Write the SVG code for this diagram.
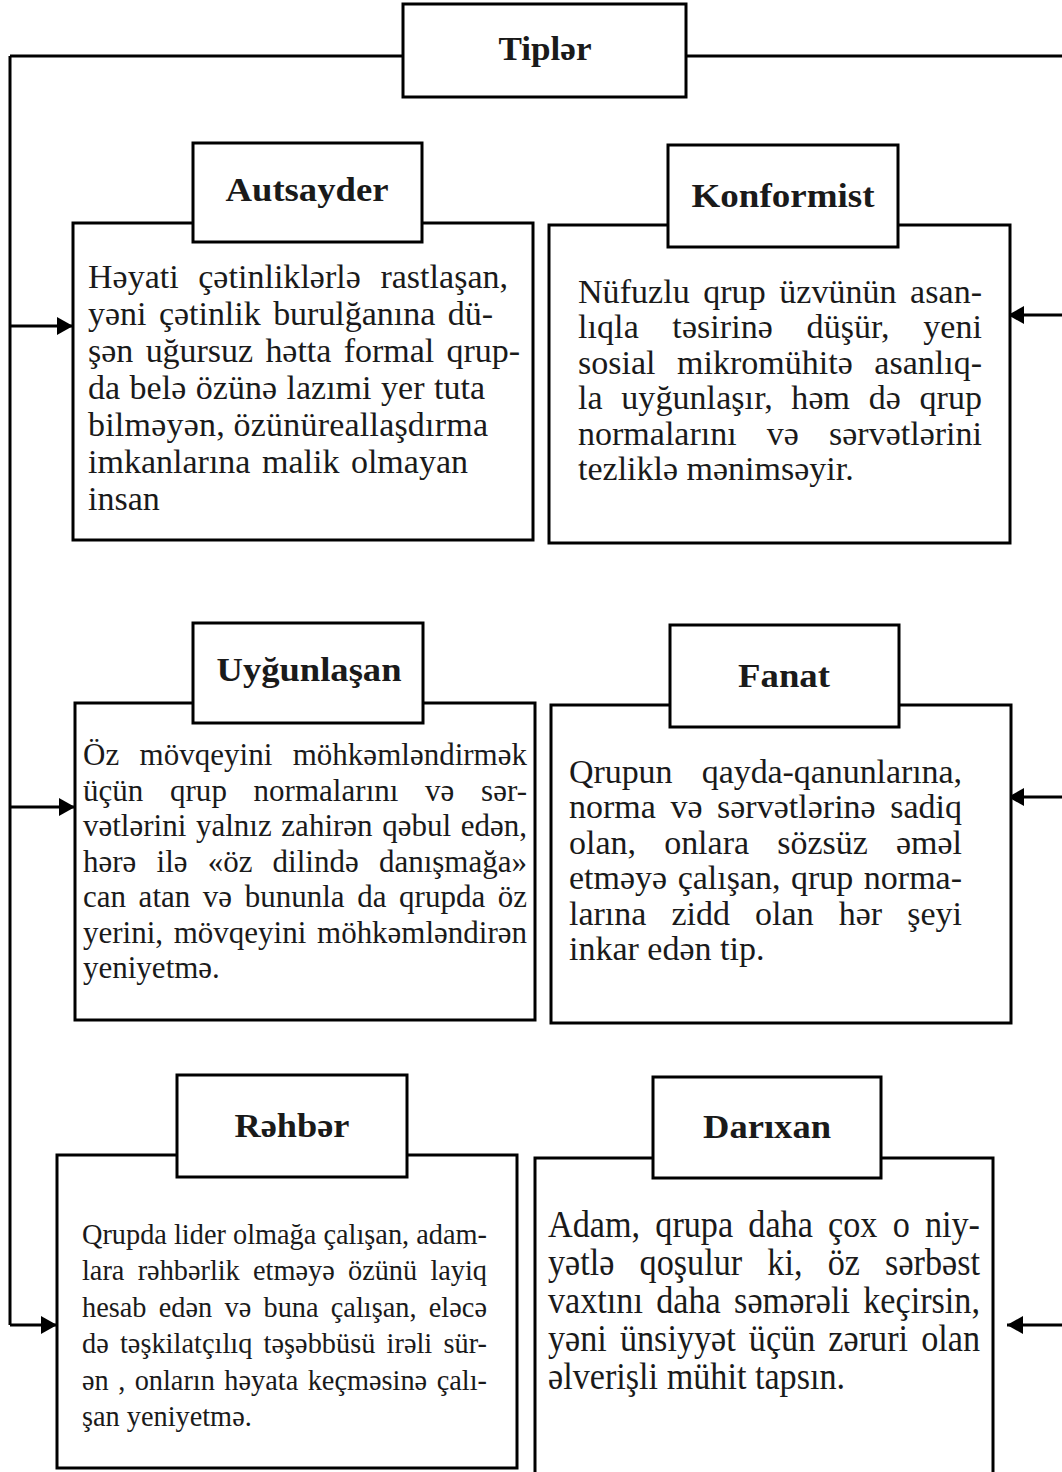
<svg xmlns="http://www.w3.org/2000/svg" width="1062" height="1472" viewBox="0 0 1062 1472">
<style>
.box{fill:#fff;stroke:#000;stroke-width:3}
.ln{fill:none;stroke:#000;stroke-width:3}
.hd{font-family:"Liberation Serif","Times New Roman",serif;font-weight:bold;font-size:34px;fill:#1a1a1a;text-anchor:middle}
.bd{font-family:"Liberation Serif","Times New Roman",serif;font-size:34px;fill:#1a1a1a}
.bd31{font-family:"Liberation Serif","Times New Roman",serif;font-size:31px;fill:#1a1a1a}
.bd30{font-family:"Liberation Serif","Times New Roman",serif;font-size:30px;fill:#1a1a1a}
.bd38{font-family:"Liberation Serif","Times New Roman",serif;font-size:38px;fill:#1a1a1a}
</style>
<defs>
<marker id="ah" markerUnits="userSpaceOnUse" markerWidth="18" markerHeight="20" refX="16" refY="9" orient="auto">
<path d="M0,0 L16,9 L0,18 Z" fill="#000"/>
</marker>
</defs>
<g id="connectors">
<path class="ln" d="M10,56 H403"/>
<path class="ln" d="M686,56 H1062"/>
<path class="ln" d="M10,56 V1325"/>
<path class="ln" d="M10,326 H73" marker-end="url(#ah)"/>
<path class="ln" d="M10,807 H75" marker-end="url(#ah)"/>
<path class="ln" d="M10,1325 H57" marker-end="url(#ah)"/>
<path class="ln" d="M1062,315 H1008" marker-end="url(#ah)"/>
<path class="ln" d="M1062,797 H1008" marker-end="url(#ah)"/>
<path class="ln" d="M1062,1325 H1007" marker-end="url(#ah)"/>
</g>
<g id="tipler">
<rect class="box" x="403" y="4" width="283" height="93"/>
<text class="hd" x="545" y="60" textLength="93" lengthAdjust="spacingAndGlyphs">Tiplər</text>
</g>
<g id="autsayder">
<rect class="box" x="73" y="223" width="460" height="317"/>
<rect class="box" x="193" y="143" width="229" height="99"/>
<text class="hd" x="307" y="201" textLength="163" lengthAdjust="spacingAndGlyphs">Autsayder</text>
<text class="bd" x="88" y="288" word-spacing="11" textLength="420" lengthAdjust="spacing">Həyati çətinliklərlə rastlaşan,</text>
<text class="bd" x="88" y="325" word-spacing="4" textLength="405" lengthAdjust="spacing">yəni çətinlik burulğanına dü-</text>
<text class="bd" x="88" y="362" word-spacing="4" textLength="432" lengthAdjust="spacing">şən uğursuz hətta formal qrup-</text>
<text class="bd" x="88" y="399" word-spacing="1" textLength="397" lengthAdjust="spacing">da belə özünə lazımi yer tuta</text>
<text class="bd" x="88" y="436" textLength="400" lengthAdjust="spacing">bilməyən, özünüreallaşdırma</text>
<text class="bd" x="88" y="473" word-spacing="3" textLength="380" lengthAdjust="spacing">imkanlarına malik olmayan</text>
<text class="bd" x="88" y="510">insan</text>
</g>
<g id="konformist">
<rect class="box" x="549" y="225" width="461" height="318"/>
<rect class="box" x="668" y="145" width="230" height="102"/>
<text class="hd" x="783" y="207" textLength="183" lengthAdjust="spacingAndGlyphs">Konformist</text>
<text class="bd" x="578" y="303" word-spacing="5" textLength="404" lengthAdjust="spacing">Nüfuzlu qrup üzvünün asan-</text>
<text class="bd" x="578" y="338" word-spacing="25" textLength="404" lengthAdjust="spacing">lıqla təsirinə düşür, yeni</text>
<text class="bd" x="578" y="374" word-spacing="13" textLength="404" lengthAdjust="spacing">sosial mikromühitə asanlıq-</text>
<text class="bd" x="578" y="409" word-spacing="10" textLength="404" lengthAdjust="spacing">la uyğunlaşır, həm də qrup</text>
<text class="bd" x="578" y="445" word-spacing="21.6" textLength="404" lengthAdjust="spacing">normalarını və sərvətlərini</text>
<text class="bd" x="578" y="480">tezliklə mənimsəyir.</text>
</g>
<g id="uygunlasan">
<rect class="box" x="75" y="703" width="460" height="317"/>
<rect class="box" x="193" y="623" width="230" height="100"/>
<text class="hd" x="309" y="681" textLength="185" lengthAdjust="spacingAndGlyphs">Uyğunlaşan</text>
<text class="bd31" x="83" y="765" word-spacing="12.7" textLength="444" lengthAdjust="spacing">Öz mövqeyini möhkəmləndirmək</text>
<text class="bd31" x="83" y="800.5" word-spacing="18.9" textLength="444" lengthAdjust="spacing">üçün qrup normalarını və sər-</text>
<text class="bd31" x="83" y="836" word-spacing="1.9" textLength="444" lengthAdjust="spacing">vətlərini yalnız zahirən qəbul edən,</text>
<text class="bd31" x="83" y="871.5" word-spacing="12.4" textLength="444" lengthAdjust="spacing">hərə ilə «öz dilində danışmağa»</text>
<text class="bd31" x="83" y="907" word-spacing="4.8" textLength="444" lengthAdjust="spacing">can atan və bununla da qrupda öz</text>
<text class="bd31" x="83" y="942.5" word-spacing="3" textLength="444" lengthAdjust="spacing">yerini, mövqeyini möhkəmləndirən</text>
<text class="bd31" x="83" y="978">yeniyetmə.</text>
</g>
<g id="fanat">
<rect class="box" x="551" y="705" width="460" height="318"/>
<rect class="box" x="670" y="625" width="229" height="102"/>
<text class="hd" x="784" y="687" textLength="92" lengthAdjust="spacingAndGlyphs">Fanat</text>
<text class="bd" x="569" y="783" word-spacing="21" textLength="393" lengthAdjust="spacing">Qrupun qayda-qanunlarına,</text>
<text class="bd" x="569" y="818" word-spacing="6" textLength="393" lengthAdjust="spacing">norma və sərvətlərinə sadiq</text>
<text class="bd" x="569" y="854" word-spacing="19.6" textLength="393" lengthAdjust="spacing">olan, onlara sözsüz əməl</text>
<text class="bd" x="569" y="889" word-spacing="2" textLength="393" lengthAdjust="spacing">etməyə çalışan, qrup norma-</text>
<text class="bd" x="569" y="925" word-spacing="16.6" textLength="393" lengthAdjust="spacing">larına zidd olan hər şeyi</text>
<text class="bd" x="569" y="960">inkar edən tip.</text>
</g>
<g id="rehber">
<rect class="box" x="57" y="1155" width="460" height="313"/>
<rect class="box" x="177" y="1075" width="230" height="102"/>
<text class="hd" x="292" y="1137" textLength="115" lengthAdjust="spacingAndGlyphs">Rəhbər</text>
<g transform="translate(82,0) scale(0.944,1)">
<text class="bd30" x="0" y="1244" textLength="429" lengthAdjust="spacing">Qrupda lider olmağa çalışan, adam-</text>
<text class="bd30" x="0" y="1280.5" word-spacing="6.6" textLength="429" lengthAdjust="spacing">lara rəhbərlik etməyə özünü layiq</text>
<text class="bd30" x="0" y="1317" word-spacing="5.5" textLength="429" lengthAdjust="spacing">hesab edən və buna çalışan, eləcə</text>
<text class="bd30" x="0" y="1353.5" word-spacing="4.3" textLength="429" lengthAdjust="spacing">də təşkilatçılıq təşəbbüsü irəli sür-</text>
<text class="bd30" x="0" y="1390" word-spacing="2.5" textLength="429" lengthAdjust="spacing">ən , onların həyata keçməsinə çalı-</text>
<text class="bd30" x="0" y="1426.5">şan yeniyetmə.</text>
</g>
</g>
<g id="darixan">
<rect class="box" x="535" y="1158" width="458" height="330"/>
<rect class="box" x="653" y="1077" width="228" height="101"/>
<text class="hd" x="767" y="1138" textLength="128" lengthAdjust="spacingAndGlyphs">Darıxan</text>
<g transform="translate(548,0) scale(0.9,1)">
<text class="bd38" x="0" y="1237" word-spacing="7.4" textLength="480" lengthAdjust="spacing">Adam, qrupa daha çox o niy-</text>
<text class="bd38" x="0" y="1275" word-spacing="18.5" textLength="480" lengthAdjust="spacing">yətlə qoşulur ki, öz sərbəst</text>
<text class="bd38" x="0" y="1313" word-spacing="5.3" textLength="480" lengthAdjust="spacing">vaxtını daha səmərəli keçirsin,</text>
<text class="bd38" x="0" y="1351" word-spacing="5" textLength="480" lengthAdjust="spacing">yəni ünsiyyət üçün zəruri olan</text>
<text class="bd38" x="0" y="1389">əlverişli mühit tapsın.</text>
</g>
</g>
</svg>
